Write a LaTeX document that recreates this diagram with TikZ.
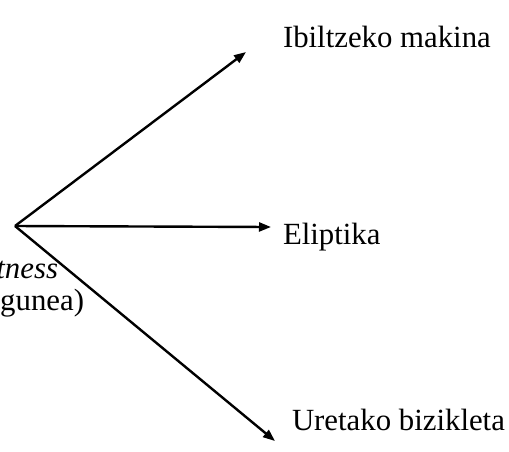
\documentclass[tikz,border=0pt]{standalone}
\usepackage{fontspec}
\setmainfont{Liberation Serif}
\usetikzlibrary{arrows.meta}
\begin{document}
\begin{tikzpicture}[x=1pt,y=-1pt,
  lbl/.style={inner sep=0pt,outer sep=0pt,font=\fontsize{30.8}{36}\selectfont},
  arr/.style={line width=2.4pt,-{Triangle[length=12pt,width=9pt]}}]
\useasboundingbox (0,0) rectangle (509,451);
\coordinate (O) at (15,226);
\coordinate (A) at (246,52);
\coordinate (B) at (271,227);
\coordinate (C) at (275,441);
\draw[arr] (O) -- (A);
\draw[arr] (O) -- (B);
\draw[arr] (O) -- (C);
\node[lbl,anchor=base west] (ta) at (283,47) {Ibiltzeko makina};
\node[lbl,anchor=base west] (tb) at (283,244) {Eliptika};
\node[lbl,anchor=base west] (tc) at (292,430) {Uretako bizikleta};
\node[lbl,anchor=base east] (l1) at (58,278) {\textit{tness}};
\node[lbl,anchor=base east] (l2) at (84,310) {gunea)};
\end{tikzpicture}
\end{document}
